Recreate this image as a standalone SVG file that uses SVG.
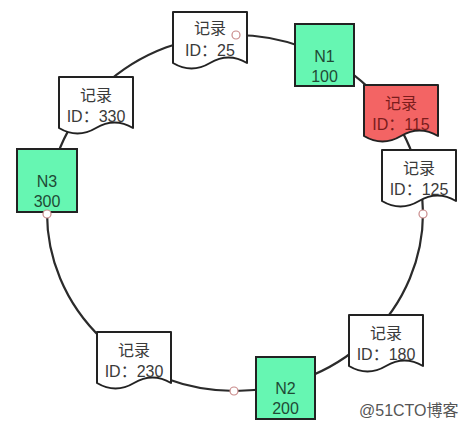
<svg xmlns="http://www.w3.org/2000/svg" width="473" height="427" viewBox="0 0 473 427">
<style>
.doc{fill:#fff;stroke:#222;stroke-width:2;stroke-linejoin:round}
.doc.red{fill:#f36464}
.node{fill:#66f6b2;stroke:#222;stroke-width:2}
.t{font-family:"Liberation Sans","Noto Sans CJK SC",sans-serif;font-size:16px;fill:#3a3a3a;text-anchor:middle}
.tr{fill:#7a1c1c}
.tn{fill:#1f4a35}
.dot{fill:#fff;stroke:#c98a8a;stroke-width:1.2}
.ring{fill:none;stroke:#2b2b2b;stroke-width:2.2}
.wm{font-family:"Liberation Sans","Noto Sans CJK SC",sans-serif;font-size:16px;fill:#555}
</style>
<defs>
<path id="docshape" d="M0,0 H74 V51 Q55.5,40 37,51 Q18.5,62 0,51 Z"/>
</defs>
<rect width="473" height="427" fill="#fff"/>
<g id="connectors">
<ellipse class="ring" cx="235" cy="213" rx="188" ry="178"/>
</g>
<g id="rec25" transform="translate(173,12)">
<use href="#docshape" class="doc"/>
<text class="t" x="37" y="22">记录</text>
<text class="t" x="37" y="44">ID：25</text>
</g>
<g id="n1">
<rect class="node" x="295" y="24" width="59" height="62"/>
<text class="t tn" x="324.5" y="62">N1</text>
<text class="t tn" x="324.5" y="82">100</text>
</g>
<g id="rec115" transform="translate(364,85)">
<use href="#docshape" class="doc red"/>
<text class="t tr" x="37" y="24">记录</text>
<text class="t tr" x="37" y="45">ID：115</text>
</g>
<g id="rec125" transform="translate(382,150)">
<use href="#docshape" class="doc"/>
<text class="t" x="37" y="24">记录</text>
<text class="t" x="37" y="45">ID：125</text>
</g>
<g id="rec180" transform="translate(349,315)">
<use href="#docshape" class="doc"/>
<text class="t" x="37" y="24">记录</text>
<text class="t" x="37" y="45">ID：180</text>
</g>
<g id="n2">
<rect class="node" x="256" y="357" width="59" height="62"/>
<text class="t tn" x="285.5" y="394">N2</text>
<text class="t tn" x="285.5" y="414">200</text>
</g>
<g id="rec230" transform="translate(97,332)">
<use href="#docshape" class="doc"/>
<text class="t" x="37" y="24">记录</text>
<text class="t" x="37" y="45">ID：230</text>
</g>
<g id="n3">
<rect class="node" x="17" y="149" width="60" height="63"/>
<text class="t tn" x="47" y="187">N3</text>
<text class="t tn" x="47" y="207">300</text>
</g>
<g id="rec330" transform="translate(59,77)">
<use href="#docshape" class="doc"/>
<text class="t" x="37" y="24">记录</text>
<text class="t" x="37" y="45">ID：330</text>
</g>
<g id="dots">
<circle class="dot" cx="236" cy="35" r="4"/>
<circle class="dot" cx="423" cy="214" r="4"/>
<circle class="dot" cx="47" cy="214" r="4"/>
<circle class="dot" cx="234" cy="391" r="4"/>
</g>
<text class="wm" x="359" y="416">@51CTO博客</text>
</svg>
